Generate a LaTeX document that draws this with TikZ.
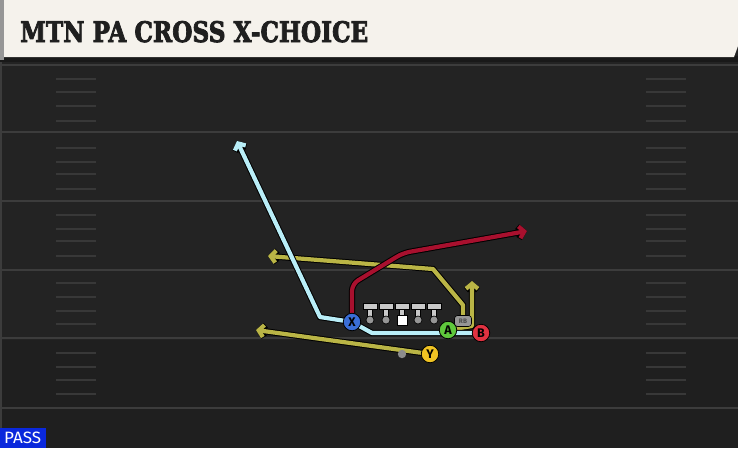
\documentclass[tikz,border=0pt]{standalone}
\usepackage{fontspec}
\usepackage{graphicx}
\usetikzlibrary{arrows.meta}
\newfontfamily\titlefont{DejaVu Serif}[BoldFeatures={FakeBold=3}]
\newfontfamily\playfont{Fira Sans}
\definecolor{fieldgrey}  {RGB}{35,35,35}
\definecolor{lowgrey}    {RGB}{31,31,31}
\definecolor{linegrey}   {RGB}{60,60,60}
\definecolor{hashgrey}   {RGB}{56,56,56}
\definecolor{panelcream} {RGB}{245,242,236}
\definecolor{stripgrey}  {RGB}{150,150,150}
\definecolor{rcyan}      {RGB}{185,238,248}
\definecolor{rred}       {RGB}{168,16,46}
\definecolor{ryellow}    {RGB}{186,181,70}
\definecolor{xblue}      {RGB}{58,110,215}
\definecolor{agreen}     {RGB}{95,200,60}
\definecolor{bred}       {RGB}{225,50,65}
\definecolor{yyellow}    {RGB}{240,195,35}
\definecolor{passblue}   {RGB}{10,40,220}
\definecolor{olgrey}     {RGB}{200,200,200}
\definecolor{dotgrey}    {RGB}{150,150,150}
\tikzset{
    route/.style={line width=4.2pt, line join=round, line cap=round,
             preaction={draw=black, line width=6.2pt}},
    tipped/.style={-{Straight Barb[length=5pt,width=12pt]}},
    player/.style={circle, draw=black, line width=0.8pt, minimum size=17.5pt,
             inner sep=0pt, text=black, font=\playfont\bfseries\fontsize{12.5}{12.5}\selectfont},
    backbox/.style={rounded corners=3pt, draw=black, line width=0.6pt, fill=stripgrey,
             minimum width=17pt, minimum height=11pt, inner sep=0pt,
             font=\playfont\bfseries\fontsize{6.5}{6.5}\selectfont, text=black!70},
    yardline/.style={draw=linegrey, line width=2pt},
    hashline/.style={draw=hashgrey, line width=1.4pt}
  }

\begin{document}
\begin{tikzpicture}[x=1pt, y=-1pt]
 \useasboundingbox (0,0) rectangle (738,448);
 %field
     \fill[fieldgrey] (0,0) rectangle (738,448);
     \fill[lowgrey] (0,340) rectangle (738,448);
     \fill[linegrey] (0,60) rectangle (2,448);
     \foreach \yl in {65,132,201,270,338,408}
       \draw[yardline] (0,\yl) -- (738,\yl);
     \foreach \hy in {79,92,106,121,148,162,174,189,215,229,241,256,283,297,311,324,353,367,380,394} {
       \draw[hashline] (56,\hy) -- (96,\hy);
       \draw[hashline] (646,\hy) -- (686,\hy);
     }
 %header
     \fill[black!90] (0,56) rectangle (738,62);
     \fill[panelcream] (4,0) -- (738,0) -- (738,46) -- (734,57) -- (4,57) -- cycle;
     \fill[stripgrey] (0,0) rectangle (4,60);
     \node[anchor=base west, inner sep=0pt, text=black!88] (title) at (20,42)
       {\resizebox{348pt}{21pt}{\titlefont\bfseries MTN PA CROSS X-CHOICE}};
 %play tag
     \fill[passblue] (0,428) rectangle (46,448);
     \node[anchor=base west, inner sep=0pt, text=white] (tag) at (4,443.5)
       {\resizebox{37pt}{11.5pt}{\playfont PASS}};

 %spots
     \coordinate (xr) at (352,322);
     \coordinate (ar) at (448,330);
     \coordinate (br) at (481,333);
     \coordinate (yr) at (430,354);
     \coordinate (rbr) at (463,321);

 %Y drag
     \draw[route, ryellow, tipped] (yr) -- (256,330);
 %RB wheel
     \draw[route, ryellow, tipped] (rbr) -- (463,305) -- (433,269) -- (268,256);
 %A flat
     \draw[route, ryellow, tipped] (ar) -- (472,326) -- (472,281);
 %B cross
     \draw[route, rcyan, tipped] (br) -- (372,333) -- (xr) -- (320,317) -- (237,141);
 %X choice
     \draw[route, rred, tipped, rounded corners=7pt] (xr) -- (352,284) -- (403,253) -- (527,231);

 %line
     \foreach \ox [count=\oi] in {370,386,402,418,434} {
       \draw[black, line width=0.6pt, fill=olgrey] (\ox-2.5,308) rectangle (\ox+2.5,319);
       \draw[black, line width=0.6pt, fill=olgrey] (\ox-7,303) rectangle (\ox+7,309);
       \ifnum\oi=3
         \draw[black, line width=0.6pt, fill=white] (\ox-5,315) rectangle (\ox+5,325);
       \else
         \fill[dotgrey, draw=black, line width=0.6pt] (\ox,320) circle (4);
       \fi
     }
 %quarterback
     \fill[black!45] (402,354) circle (4.2);

 %players
     \node[player, fill=xblue] (x) at (xr) {X};
     \node[player, fill=agreen] (a) at (ar) {A};
     \node[player, fill=bred] (b) at (br) {B};
     \node[player, fill=yyellow] (y) at (yr) {Y};
     \node[backbox] (rb) at (rbr) {RB};
\end{tikzpicture}
\end{document}
